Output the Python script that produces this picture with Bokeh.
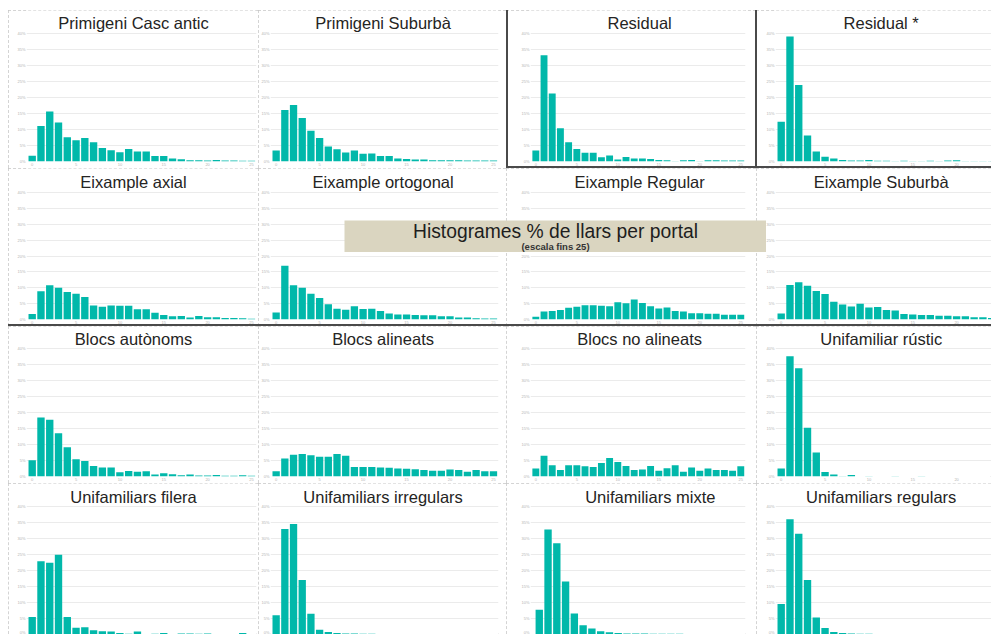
from bokeh.plotting import figure
from bokeh.layouts import gridplot, column, row, Spacer
from bokeh.models import Range1d, FixedTicker, PrintfTickFormatter, Label, InlineStyleSheet
from bokeh.embed import file_html
from bokeh.resources import INLINE

# ---------------- data ----------------
bins = list(range(26))                       # households per entrance (0..25)
x_ticks = [0, 5, 10, 15, 20, 25]
y_ticks = [0, 5, 10, 15, 20, 25, 30, 35, 40]

main_title = "Histogrames % de llars per portal"
sub_title = "(escala fins 25)"

titles = [
    "Primigeni Casc antic", "Primigeni Suburbà", "Residual", "Residual *",
    "Eixample axial", "Eixample ortogonal", "Eixample Regular", "Eixample Suburbà",
    "Blocs autònoms", "Blocs alineats", "Blocs no alineats", "Unifamiliar rústic",
    "Unifamiliars filera", "Unifamiliars irregulars", "Unifamiliars mixte", "Unifamiliars regulars",
]

primigeni_casc_antic = [1.8, 11.1, 15.6, 12.2, 7.6, 6.6, 7.3, 6.0, 4.2, 3.5, 2.9, 3.9, 3.1,
                        3.1, 1.7, 1.7, 0.9, 0.7, 0.4, 0.4, 0.3, 0.5, 0.3, 0.3, 0.2, 0.2]
primigeni_suburba = [3.4, 16.1, 17.6, 13.6, 9.6, 7.3, 4.7, 3.8, 2.8, 3.4, 2.4, 2.5, 1.7,
                     1.7, 0.9, 0.8, 0.6, 0.6, 0.4, 0.4, 0.4, 0.4, 0.3, 0.3, 0.3, 0.3]
residual = [3.4, 33.2, 21.2, 10.4, 6.0, 3.9, 2.7, 2.7, 1.3, 1.9, 0.6, 1.4, 0.9,
            0.9, 0.8, 0.5, 0.4, 0.1, 0.4, 0.5, 0.1, 0.4, 0.4, 0.3, 0.3, 0.3]
residual_star = [12.4, 39.0, 23.9, 8.1, 3.1, 1.5, 0.9, 0.5, 0.3, 0.3, 0.5, 0.2, 0.2,
                 0.1, 0.2, 0.1, 0.1, 0.2, 0.1, 0.3, 0.4, 0.1, 0.1, 0.1, 0.1, 0.1]
eixample_axial = [1.7, 8.9, 10.8, 10.0, 8.7, 8.1, 7.1, 4.4, 4.0, 4.4, 4.3, 4.3, 3.2,
                  3.2, 2.1, 1.4, 1.0, 1.1, 0.6, 1.1, 0.7, 0.7, 0.5, 0.5, 0.4, 0.2]
eixample_ortogonal = [2.2, 16.9, 10.8, 10.0, 8.1, 6.8, 4.8, 3.4, 3.1, 4.2, 3.3, 3.4, 2.7,
                      1.9, 1.6, 1.6, 1.4, 1.3, 1.3, 1.0, 1.0, 0.6, 0.6, 0.4, 0.3, 0.3]
eixample_regular = [0.9, 2.5, 2.7, 3.0, 3.7, 4.0, 4.5, 4.5, 4.3, 4.2, 5.4, 5.1, 6.3,
                    5.2, 4.2, 3.5, 3.8, 2.7, 2.5, 2.0, 2.0, 1.8, 1.8, 1.5, 1.5, 1.5]
eixample_suburba = [1.9, 10.9, 11.7, 10.6, 9.0, 8.0, 5.6, 4.7, 4.1, 5.0, 3.8, 3.9, 3.0,
                    2.8, 1.7, 1.6, 1.4, 1.4, 1.2, 1.2, 1.0, 1.0, 0.7, 0.7, 0.5, 0.4]
blocs_autonoms = [5.1, 18.4, 17.7, 13.5, 9.1, 5.4, 4.8, 3.3, 2.8, 2.8, 1.3, 1.7, 1.5,
                  1.6, 0.6, 1.0, 0.7, 0.4, 0.6, 0.3, 0.3, 0.5, 0.2, 0.2, 0.4, 0.2]
blocs_alineats = [1.6, 5.6, 6.8, 7.0, 6.6, 6.2, 6.2, 7.0, 6.5, 3.0, 3.0, 3.0, 2.8,
                  2.7, 2.5, 2.4, 2.3, 2.0, 1.8, 1.8, 2.2, 2.0, 1.5, 2.0, 1.6, 1.6]
blocs_no_alineats = [2.5, 6.5, 3.5, 2.0, 3.5, 3.5, 3.2, 3.0, 4.2, 5.8, 4.5, 3.3, 2.0,
                     2.2, 3.3, 1.8, 2.6, 3.5, 1.5, 2.8, 1.8, 2.5, 2.0, 2.0, 1.8, 3.2]
unifamiliar_rustic = [2.5, 37.5, 33.8, 15.2, 7.5, 1.4, 0.6, 0.1, 0.5, 0.0, 0.1, 0.0, 0.0,
                      0.1, 0.0, 0.0, 0.1, 0.0, 0.0, 0.0, 0.0, 0.0, 0.0, 0.0, 0.0, 0.0]
unifamiliars_filera = [5.5, 22.9, 22.4, 24.9, 5.5, 2.1, 2.3, 1.3, 1.0, 0.9, 0.5, 0.2, 0.9,
                       0.1, 0.2, 0.5, 0.1, 0.3, 0.3, 0.2, 0.3, 0.1, 0.1, 0.1, 0.5, 0.1]
unifamiliars_irregulars = [6.0, 33.0, 34.5, 17.0, 6.5, 1.5, 0.8, 0.5, 0.3, 0.3, 0.2, 0.2, 0.1,
                           0.1, 0.1, 0.1, 0.1, 0.1, 0.1, 0.1, 0.1, 0.1, 0.1, 0.1, 0.1, 0.1]
unifamiliars_mixte = [7.7, 32.8, 28.5, 16.6, 6.6, 2.9, 1.9, 1.0, 0.7, 0.5, 0.3, 0.3, 0.3,
                      0.2, 0.2, 0.2, 0.2, 0.1, 0.1, 0.1, 0.1, 0.1, 0.1, 0.1, 0.1, 0.1]
unifamiliars_regulars = [9.5, 36.0, 31.5, 17.0, 5.3, 2.0, 0.8, 0.5, 0.3, 0.2, 0.2, 0.1, 0.1,
                         0.1, 0.1, 0.1, 0.1, 0.1, 0.1, 0.1, 0.1, 0.1, 0.1, 0.1, 0.1, 0.1]

series = [
    primigeni_casc_antic, primigeni_suburba, residual, residual_star,
    eixample_axial, eixample_ortogonal, eixample_regular, eixample_suburba,
    blocs_autonoms, blocs_alineats, blocs_no_alineats, unifamiliar_rustic,
    unifamiliars_filera, unifamiliars_irregulars, unifamiliars_mixte, unifamiliars_regulars,
]

# ---------------- layout / style ----------------
BAR = "#01B8AA"
FONT = "Liberation Sans"
PPU = 8.77                         # pixels per bin
COL_W = [250, 248, 250, 235]
COL_LEFT = [18, 10, 9, 19]
COL_RIGHT = [2, 8, 11, 0]
TITLE_X = [11.55, 12.3, 12.66, 11.4]
ROW_H = [158, 158, 157, 151]
ROW_GRID_TOP = [23, 24, 22, 23]    # px from panel top to the 40 gridline
ROW_BASE = [152, 151, 151, 151]    # px from panel top to the 0 baseline
TITLE_MID = 13                     # px from panel top to the title centre

base_css = ":host { outline: 1px dashed #c6c6c6; outline-offset: -1px; }"


def solid_css(widths):
    return (":host::after { content: ''; position: absolute; left: 0; top: 0; right: 0; bottom: 0;"
            " pointer-events: none; z-index: 50; border-style: solid; border-color: #4a4a4a;"
            " border-width: %s; }" % widths)


solid = {2: "0 1px 2px 2px", 3: "0 0 2px 1px", 4: "0 0 2px 0", 5: "0 0 2px 0",
         6: "0 0 2px 0", 7: "0 0 2px 0"}

figs = []
for k, (title, vals) in enumerate(zip(titles, series)):
    r, c = divmod(k, 4)
    w, h = COL_W[c], ROW_H[r]
    left, right = COL_LEFT[c], COL_RIGHT[c]
    x0 = -0.65
    if k == 14:
        left, x0 = 24, -1.0
    x1 = x0 + (w - left - right) / PPU
    ppu_y = (ROW_BASE[r] - ROW_GRID_TOP[r]) / 40.0
    y1 = ROW_BASE[r] / ppu_y
    last_row = r == 3
    sheets = [InlineStyleSheet(css=base_css)]
    if k in solid:
        sheets.append(InlineStyleSheet(css=solid_css(solid[k])))
    p = figure(width=w, height=h, x_range=Range1d(x0, x1), y_range=Range1d(0, y1),
               toolbar_location=None, output_backend="svg", title=None,
               x_axis_location=None if last_row else "below",
               min_border_left=left, min_border_right=right,
               min_border_top=0, min_border_bottom=h - ROW_BASE[r],
               outline_line_color=None, background_fill_color="white",
               border_fill_color="white", stylesheets=sheets)
    p.vbar(x=bins, top=vals, width=0.84, fill_color=BAR, line_color=None)
    p.xgrid.visible = False
    p.yaxis.ticker = FixedTicker(ticks=y_ticks)
    p.yaxis.formatter = PrintfTickFormatter(format="%d%%")
    p.ygrid.grid_line_color = "#ebebeb"
    if not last_row:
        p.xaxis.ticker = FixedTicker(ticks=x_ticks)
    for ax in p.axis:
        ax.axis_line_color = None
        ax.major_tick_line_color = None
        ax.minor_tick_line_color = None
        ax.major_tick_out = 0
        ax.major_tick_in = 0
        ax.minor_tick_out = 0
        ax.minor_tick_in = 0
        ax.major_label_text_font_size = "4px"
        ax.major_label_text_color = "#b4b4b4"
        ax.major_label_text_font = FONT
        ax.major_label_standoff = 1
    p.add_layout(Label(x=TITLE_X[c], y=y1 - TITLE_MID / ppu_y, text=title, text_align="center",
                       text_baseline="middle", text_font=FONT, text_font_size="16.5px",
                       text_color="#252423"))
    figs.append(p)

grid = gridplot(figs, ncols=4, toolbar_location=None)

box = figure(width=422, height=32, x_range=Range1d(0, 1), y_range=Range1d(0, 1),
             toolbar_location=None, output_backend="svg", title=None,
             x_axis_location=None, y_axis_location=None, min_border=0,
             background_fill_color="#DAD5C0", border_fill_color="#DAD5C0",
             outline_line_color=None)
box.grid.visible = False
box.add_layout(Label(x=0.5, y=0.66, text=main_title, text_align="center",
                     text_baseline="middle", text_font=FONT, text_font_size="19.3px",
                     text_color="#1e1e1e"))
box.add_layout(Label(x=0.5, y=0.19, text=sub_title, text_align="center",
                     text_baseline="middle", text_font=FONT, text_font_size="9.5px",
                     text_font_style="bold", text_color="#333333"))
box.styles = {"position": "absolute", "left": "344px", "top": "220px", "z-index": "100"}

layout = column(Spacer(width=991, height=10), row(Spacer(width=8, height=10), grid), box)
open("out.html", "w").write(file_html(layout, INLINE))
